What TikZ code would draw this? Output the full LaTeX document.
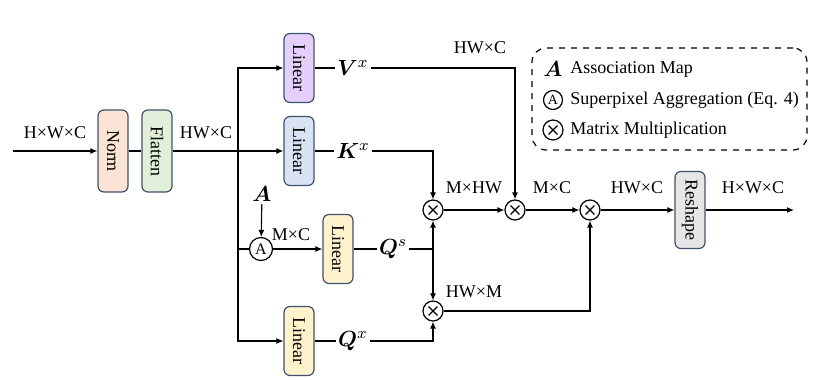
\documentclass[tikz,border=0pt]{standalone}
\usepackage{fontspec}
\setmainfont{Liberation Serif}
\usepackage{amsmath,bm}
\usetikzlibrary{arrows.meta,positioning,calc}
\definecolor{boxedge}{RGB}{66,82,110}
\definecolor{normfill}{RGB}{251,228,213}
\definecolor{flatfill}{RGB}{226,240,217}
\definecolor{vfill}{RGB}{229,208,251}
\definecolor{kfill}{RGB}{218,227,243}
\definecolor{qfill}{RGB}{255,242,204}
\definecolor{rsfill}{RGB}{230,230,230}
\newcommand{\vlabel}[1]{\rotatebox[origin=c]{-90}{#1}}
\tikzset{
  blk/.style={draw=boxedge, line width=0.6pt, rounded corners=3pt, inner sep=0pt, minimum width=15pt, minimum height=34.5pt},
  mul/.style={circle, draw, line width=0.6pt, inner sep=0pt, minimum size=10pt,
    path picture={\draw[line width=0.6pt] ($(path picture bounding box.center)+(-2.2pt,-2.2pt)$) -- ++(4.4pt,4.4pt)
      ($(path picture bounding box.center)+(-2.2pt,2.2pt)$) -- ++(4.4pt,-4.4pt);}},
  agg/.style={circle, draw, line width=0.6pt, inner sep=0pt, minimum size=11.5pt, font=\fontsize{8}{9}\selectfont},
  dim/.style={inner sep=1pt, font=\fontsize{9}{11}\selectfont},
  feat/.style={inner sep=1pt, font=\fontsize{11}{13}\selectfont},
  arr/.style={-{Latex[length=3.5pt,width=3pt]}, line width=0.55pt},
  ln/.style={line width=0.55pt},
}
\begin{document}
\begin{tikzpicture}[x=0.5pt,y=-0.5pt,font=\fontsize{9}{11}\selectfont]
  \useasboundingbox (0,0) rectangle (826,380);
  % input and normalisation
  \coordinate (in) at (13,151);
  \node[blk, fill=normfill, minimum height=41pt] (norm) at (113,151) {\vlabel{Norm}};
  \node[blk, fill=flatfill, minimum height=41pt] (flat) at (157,151) {\vlabel{Flatten}};
  \coordinate (split) at (238,151);
  \node[dim] at (55,133) {H×W×C};
  \node[dim] at (206,133) {HW×C};
  % projections
  \node[blk, fill=vfill] (linV) at (299,68) {\vlabel{Linear}};
  \node[blk, fill=kfill] (linK) at (299,151) {\vlabel{Linear}};
  \node[blk, fill=qfill] (linQs) at (338,249) {\vlabel{Linear}};
  \node[blk, fill=qfill] (linQx) at (299,341) {\vlabel{Linear}};
  \node[feat] (Vx) at (353,68) {$\boldsymbol{V}^{x}$};
  \node[feat] (Kx) at (353,151) {$\boldsymbol{K}^{x}$};
  \node[feat] (Qs) at (393,249) {$\boldsymbol{Q}^{s}$};
  \node[feat] (Qx) at (353,341) {$\boldsymbol{Q}^{x}$};
  % superpixel aggregation
  \node[feat] (amap) at (262,194) {$\boldsymbol{A}$};
  \node[agg] (sagg) at (261,249) {A};
  \node[dim] at (291,235) {M×C};
  % products
  \node[mul] (m1) at (433,210) {};
  \node[mul] (m2) at (515,210) {};
  \node[mul] (m3) at (433,311) {};
  \node[mul] (m4) at (590,210) {};
  \coordinate (qj) at (433,249);
  \node[blk, fill=rsfill, minimum height=38.5pt] (reshape) at (690,210) {\vlabel{Reshape}};
  \coordinate (out) at (794,210);
  \node[dim] at (474,188) {M×HW};
  \node[dim] at (552,188) {M×C};
  \node[dim] at (637,188) {HW×C};
  \node[dim] at (753,188) {H×W×C};
  \node[dim] at (474,292) {HW×M};
  \node[dim] at (480,48) {HW×C};

  \draw[arr] (in) -- (norm);
  \draw[ln] (norm) -- (flat);
  \draw[ln] (flat) -- (split);
  \draw[arr] (split) -- (linK);
  \draw[arr] (split) |- (linV);
  \draw[arr] (split) |- (linQx);
  \draw[ln] (split |- sagg) -- (sagg);
  \draw[arr] (amap) -- (sagg);
  \draw[arr] (sagg) -- (linQs);
  \draw[ln] (linV) -- (Vx);
  \draw[ln] (linK) -- (Kx);
  \draw[ln] (linQs) -- (Qs);
  \draw[ln] (linQx) -- (Qx);
  \draw[arr] (Vx) -| (m2);
  \draw[arr] (Kx) -| (m1);
  \draw[ln] (Qs) -- (qj);
  \draw[arr] (qj) -- (m1);
  \draw[arr] (qj) -- (m3);
  \draw[arr] (Qx) -| (m3);
  \draw[arr] (m1) -- (m2);
  \draw[arr] (m2) -- (m4);
  \draw[arr] (m3) -| (m4);
  \draw[arr] (m4) -- (reshape);
  \draw[arr] (reshape) -- (out);

  % legend
  \node[draw, dashed, line width=0.6pt, rounded corners=7pt, minimum width=137.5pt, minimum height=51pt] (legend) at (669.5,99) {};
  \node[feat] (lgA) at (553,69) {$\boldsymbol{A}$};
  \node[agg, minimum size=9.5pt, font=\fontsize{7}{8}\selectfont] (lgAgg) at (553,100) {A};
  \node[mul] (lgMul) at (553,130) {};
  \node[anchor=west, inner sep=0pt] at (570,69) {Association Map};
  \node[anchor=west, inner sep=0pt] at (570,100) {Superpixel Aggregation (Eq. 4)};
  \node[anchor=west, inner sep=0pt] at (570,130) {Matrix Multiplication};
\end{tikzpicture}
\end{document}
